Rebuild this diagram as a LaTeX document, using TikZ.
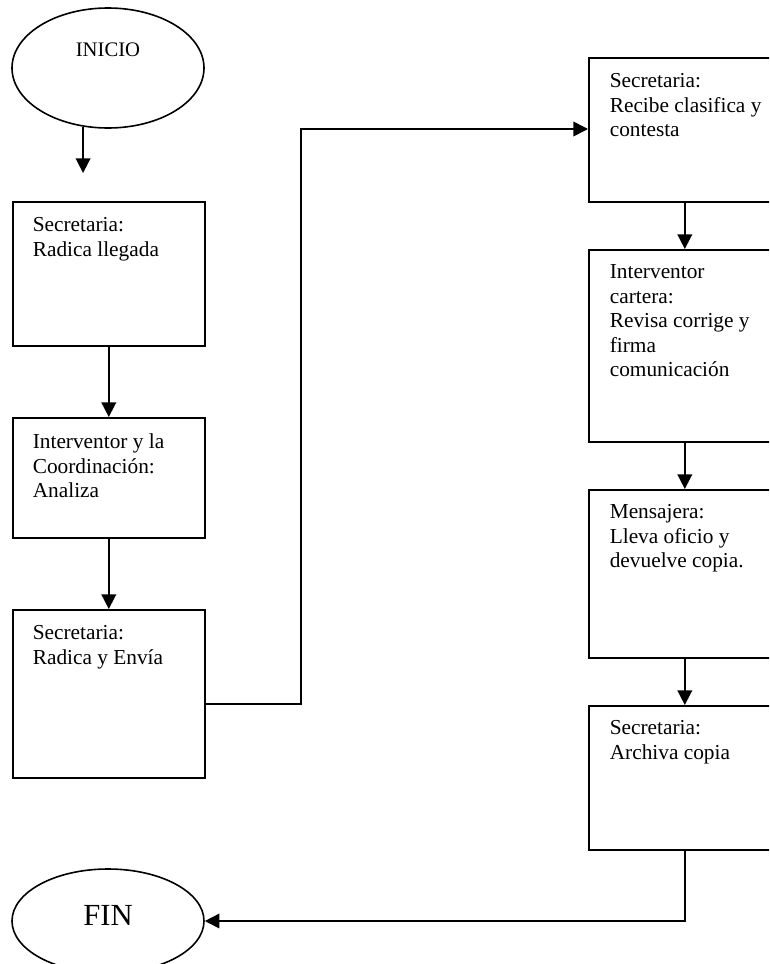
\documentclass[tikz,border=0pt]{standalone}
\usepackage{fontspec}
\setmainfont{Liberation Serif}
\usetikzlibrary{arrows.meta,shapes.geometric,calc}
\begin{document}
\begin{tikzpicture}[x=0.75pt,y=-0.75pt,
  line width=1.2pt,
  box/.style={draw,rectangle,inner sep=0,anchor=north west,minimum width=144pt},
  oval/.style={draw,ellipse,inner sep=0,minimum width=144pt},
  txt/.style={anchor=north west,inner sep=0,align=left,font=\fontsize{16}{18.4}\selectfont},
  arr/.style={-{Triangle[length=11pt,width=11pt]}}]
\useasboundingbox (0,0) rectangle (769,964);
\clip (0,0) rectangle (769,964);

% start and end
\node[oval,minimum height=90pt] (ini) at (108,68) {};
\node[inner sep=0,font=\fontsize{15.5}{18}\selectfont] (initxt) at (108,50) {INICIO};
\node[oval,minimum height=78pt] (fin) at (108,921) {};
\node[inner sep=0,font=\fontsize{23}{26}\selectfont] (fintxt) at (108,915) {FIN};

% left column
\node[box,minimum height=108pt] (b1) at (12,201) {};
\node[box,minimum height=90pt]  (b2) at (12,417) {};
\node[box,minimum height=126pt] (b3) at (12,609) {};
% right column
\node[box,minimum height=108pt] (b4) at (588,57) {};
\node[box,minimum height=144pt] (b5) at (588,249) {};
\node[box,minimum height=126pt] (b6) at (588,489) {};
\node[box,minimum height=108pt] (b7) at (588,705) {};

% box texts
\node[txt] (t1) at ($(b1.north west)+(20,16)$) {Secretaria:\\Radica llegada};
\node[txt] (t2) at ($(b2.north west)+(20,16)$) {Interventor y la\\Coordinación:\\Analiza};
\node[txt] (t3) at ($(b3.north west)+(20,16)$) {Secretaria:\\Radica y Envía};
\node[txt] (t4) at ($(b4.north west)+(21,16)$) {Secretaria:\\Recibe clasifica y\\contesta};
\node[txt] (t5) at ($(b5.north west)+(21,15)$) {Interventor\\cartera:\\Revisa corrige y\\firma\\comunicación};
\node[txt] (t6) at ($(b6.north west)+(21,15)$) {Mensajera:\\Lleva oficio y\\devuelve copia.};
\node[txt] (t7) at ($(b7.north west)+(21,15)$) {Secretaria:\\Archiva copia};

% connectors
\coordinate (a0) at (84,173);
\draw[arr] (ini.247.5) -- (ini.247.5 |- a0);
\draw[arr] (b1.south) -- (b2.north);
\draw[arr] (b2.south) -- (b3.north);
\coordinate (c1) at (301,704);
\coordinate (c2) at (301,129);
\draw[arr] (b3.east |- c1) -- (c1) -- (c2) -- (c2 -| b4.west);
\draw[arr] (b4.south) -- (b5.north);
\draw[arr] (b5.south) -- (b6.north);
\draw[arr] (b6.south) -- (b7.north);
\draw[arr] (b7.south) |- (fin.east);
\end{tikzpicture}
\end{document}
